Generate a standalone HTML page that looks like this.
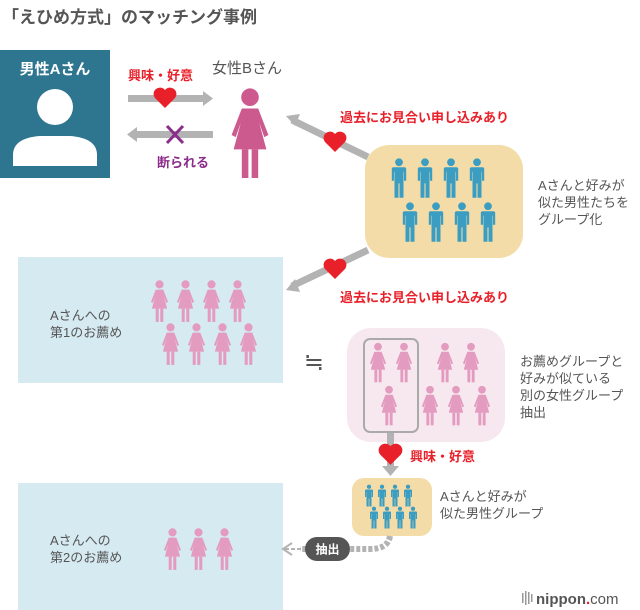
<!DOCTYPE html>
<html><head><meta charset="utf-8"><style>
body{margin:0;background:#fff}
svg{display:block;font-family:"Liberation Sans","Noto Sans CJK JP",sans-serif}
</style></head><body>
<svg width="640" height="610" viewBox="0 0 640 610" xmlns="http://www.w3.org/2000/svg">
<defs>
<symbol id="w" viewBox="0 0 20 44">
<circle cx="10" cy="4.5" r="4.3"/>
<path d="M6 10 H14 L19 23 L17 24 L14.5 17 L18 30 H2 L5.5 17 L3 24 L1 23 Z"/>
<rect x="6" y="30" width="3.2" height="14"/><rect x="10.8" y="30" width="3.2" height="14"/>
</symbol>
<symbol id="m" viewBox="0 0 20 44">
<circle cx="10" cy="4.5" r="4.3"/>
<path d="M4 10 H16 Q18 10 18 12 V25 H15.5 V15 H15 V44 H10.6 V28 H9.4 V44 H5 V15 H4.5 V25 H2 V12 Q2 10 4 10 Z"/>
</symbol>
<symbol id="h" viewBox="0 0 24 22">
<path d="M12 21 L2 11 A6 6 0 0 1 12 3 A6 6 0 0 1 22 11 Z" fill="#e8202a"/>
</symbol>
</defs>
<text x="2" y="23" font-size="17" font-weight="bold" fill="#555">「えひめ方式」のマッチング事例</text>

<rect x="0" y="50" width="110" height="128" fill="#2e7590"/>
<text x="55" y="74" font-size="15" font-weight="bold" fill="#fff" text-anchor="middle">男性Aさん</text>
<circle cx="55" cy="107" r="18" fill="#fff"/>
<path d="M13 166 V155 Q13 138 40 136 H70 Q97 138 97 155 V166 Z" fill="#fff"/>

<text x="128" y="80" font-size="13" font-weight="bold" fill="#e8202a">興味・好意</text>
<rect x="128" y="95" width="78" height="7" fill="#b3b3b3"/><path d="M203 91 L213 98.5 L203 106 Z" fill="#b3b3b3"/>
<use href="#h" x="153" y="87" width="24" height="22"/>
<rect x="135" y="131" width="78" height="7" fill="#b3b3b3"/><path d="M137 127 L127 134.5 L137 142 Z" fill="#b3b3b3"/>
<path d="M167 126 L183 143 M183 126 L167 143" stroke="#8b2d8b" stroke-width="3"/>
<text x="157" y="167" font-size="13" font-weight="bold" fill="#8b2d8b">断られる</text>

<text x="212" y="73" font-size="15" fill="#555">女性Bさん</text>
<use href="#w" x="229" y="88" width="42" height="90" fill="#cc5a8e"/>

<path d="M368 157 L292 120" stroke="#b3b3b3" stroke-width="7"/><path d="M286 116 L300 114 L295 126 Z" fill="#b3b3b3"/>
<use href="#h" x="323" y="131" width="24" height="22"/>
<text x="340" y="122" font-size="13" font-weight="bold" fill="#e8202a">過去にお見合い申し込みあり</text>
<path d="M368 250 L292 286" stroke="#b3b3b3" stroke-width="7"/><path d="M286 290 L295 279 L300 292 Z" fill="#b3b3b3"/>
<use href="#h" x="323" y="258" width="24" height="22"/>
<text x="340" y="302" font-size="13" font-weight="bold" fill="#e8202a">過去にお見合い申し込みあり</text>

<rect x="365" y="145" width="158" height="113" rx="24" fill="#f3dca7"/>
<g fill="#3a9dc1">
<use href="#m" x="390" y="158" width="18" height="40"/><use href="#m" x="416" y="158" width="18" height="40"/><use href="#m" x="442" y="158" width="18" height="40"/><use href="#m" x="468" y="158" width="18" height="40"/>
<use href="#m" x="401" y="202" width="18" height="40"/><use href="#m" x="427" y="202" width="18" height="40"/><use href="#m" x="453" y="202" width="18" height="40"/><use href="#m" x="479" y="202" width="18" height="40"/>
</g>
<g font-size="13" fill="#555"><text x="538" y="190">Aさんと好みが</text><text x="538" y="207">似た男性たちを</text><text x="538" y="224">グループ化</text></g>

<rect x="18" y="257" width="265" height="126" fill="#d6eaf2"/>
<g font-size="13" fill="#555"><text x="50" y="320">Aさんへの</text><text x="50" y="337">第1のお薦め</text></g>
<g fill="#e39bbf">
<use href="#w" x="150" y="280" width="19" height="42"/><use href="#w" x="176" y="280" width="19" height="42"/><use href="#w" x="202" y="280" width="19" height="42"/><use href="#w" x="228" y="280" width="19" height="42"/>
<use href="#w" x="161" y="323" width="19" height="42"/><use href="#w" x="187" y="323" width="19" height="42"/><use href="#w" x="213" y="323" width="19" height="42"/><use href="#w" x="239" y="323" width="19" height="42"/>
</g>
<text x="314" y="370" font-size="24" fill="#555" text-anchor="middle">≒</text>

<rect x="347" y="328" width="158" height="114" rx="24" fill="#f7e8ef"/>
<rect x="364" y="339" width="54" height="93" rx="6" fill="none" stroke="#aaa" stroke-width="2"/>
<g fill="#e39bbf">
<use href="#w" x="369" y="342" width="18" height="41"/><use href="#w" x="395" y="342" width="18" height="41"/>
<use href="#w" x="436" y="342" width="18" height="41"/><use href="#w" x="462" y="342" width="18" height="41"/>
<use href="#w" x="380" y="385" width="18" height="41"/><use href="#w" x="421" y="385" width="18" height="41"/><use href="#w" x="447" y="385" width="18" height="41"/><use href="#w" x="473" y="385" width="18" height="41"/>
</g>
<g font-size="13" fill="#555"><text x="520" y="366">お薦めグループと</text><text x="520" y="383">好みが似ている</text><text x="520" y="400">別の女性グループ</text><text x="520" y="417">抽出</text></g>

<rect x="387" y="433" width="7" height="35" fill="#b3b3b3"/><path d="M382 466 L399 466 L390.5 476 Z" fill="#b3b3b3"/>
<use href="#h" x="378" y="443" width="25" height="23"/>
<text x="410" y="461" font-size="13" font-weight="bold" fill="#e8202a">興味・好意</text>

<rect x="352" y="478" width="80" height="58" rx="12" fill="#f3dca7"/>
<g fill="#3a9dc1">
<use href="#m" x="364" y="484" width="10" height="23"/><use href="#m" x="377" y="484" width="10" height="23"/><use href="#m" x="390" y="484" width="10" height="23"/><use href="#m" x="403" y="484" width="10" height="23"/>
<use href="#m" x="369" y="506" width="10" height="23"/><use href="#m" x="382" y="506" width="10" height="23"/><use href="#m" x="395" y="506" width="10" height="23"/><use href="#m" x="408" y="506" width="10" height="23"/>
</g>
<g font-size="13" fill="#555"><text x="440" y="501">Aさんと好みが</text><text x="440" y="518">似た男性グループ</text></g>

<rect x="18" y="483" width="265" height="127" fill="#d6eaf2"/>
<g font-size="13" fill="#555"><text x="50" y="545">Aさんへの</text><text x="50" y="562">第2のお薦め</text></g>
<g fill="#e39bbf">
<use href="#w" x="163" y="528" width="19" height="42"/><use href="#w" x="189" y="528" width="19" height="42"/><use href="#w" x="215" y="528" width="19" height="42"/>
</g>
<path d="M390 536 Q388 549 370 549 L300 549" stroke="#b3b3b3" stroke-width="6" fill="none" stroke-dasharray="4 2"/>
<path d="M285 549 H305" stroke="#b3b3b3" stroke-width="2" stroke-dasharray="4 2"/>
<path d="M292 543 L283 549 L292 555" stroke="#b3b3b3" stroke-width="2" fill="none"/>
<rect x="305" y="537" width="45" height="24" rx="12" fill="#555"/>
<text x="327.5" y="553.5" font-size="12" font-weight="bold" fill="#fff" text-anchor="middle">抽出</text>

<g fill="#999"><rect x="522" y="593" width="1.5" height="10"/><rect x="525" y="591" width="1.5" height="14"/><rect x="528" y="592" width="1.5" height="12"/><rect x="531" y="594" width="1.5" height="8"/></g>
<text x="536" y="604" font-size="15" font-weight="bold" fill="#555">nippon<tspan fill="#e8202a">.</tspan><tspan font-weight="normal">com</tspan></text>
</svg>
</body></html>
